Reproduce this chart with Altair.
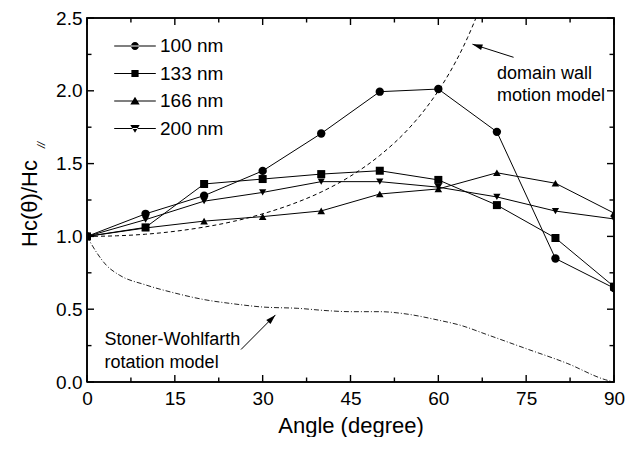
import altair as alt
import pandas as pd

# ---------------- data ----------------
angles = [0, 10, 20, 30, 40, 50, 60, 70, 80, 90]
series_names = ["100 nm", "133 nm", "166 nm", "200 nm"]
hc_100 = [1.0, 1.155, 1.28, 1.45, 1.707, 1.994, 2.012, 1.718, 0.848, 0.645]
hc_133 = [1.0, 1.062, 1.36, 1.394, 1.428, 1.451, 1.388, 1.215, 0.989, 0.655]
hc_166 = [1.0, 1.058, 1.105, 1.136, 1.175, 1.291, 1.326, 1.437, 1.365, 1.16]
hc_200 = [1.0, 1.115, 1.242, 1.302, 1.376, 1.376, 1.338, 1.271, 1.174, 1.12]

# domain wall motion model (dashed)
dw_angle = [0, 5, 10, 15, 20, 25, 30, 35, 40, 45, 50, 55, 58, 60, 62, 64, 65, 66, 67]
dw_value = [1.0, 1.004, 1.015, 1.035, 1.064, 1.103, 1.155, 1.221, 1.305, 1.414,
            1.556, 1.743, 1.887, 2.0, 2.13, 2.281, 2.366, 2.459, 2.559]

# Stoner-Wohlfarth rotation model (dash-dot)
sw_angle = [0, 1.6, 3.3, 5.5, 10, 15, 20, 25, 30, 36, 41, 45, 50, 54, 60, 64, 68, 75, 82, 88.5, 90]
sw_value = [1.0, 0.892, 0.802, 0.735, 0.667, 0.611, 0.566, 0.537, 0.515, 0.506, 0.49,
            0.483, 0.483, 0.47, 0.425, 0.387, 0.33, 0.229, 0.128, 0.016, 0.0]

x_major = [0, 15, 30, 45, 60, 75, 90]
x_minor = [7.5, 22.5, 37.5, 52.5, 67.5, 82.5]
y_major = [0.0, 0.5, 1.0, 1.5, 2.0, 2.5]
y_minor = [0.25, 0.75, 1.25, 1.75, 2.25]

# annotations (in data coordinates)
ann_text = ["domain wall", "motion model", "Stoner-Wohlfarth", "rotation model"]
ann_x = [70.0, 70.0, 3.0, 3.0]
ann_y = [2.08, 1.933, 0.254, 0.094]
arrow_id = ["dw", "dw", "sw", "sw"]
arrow_x = [72.85, 65.83, 26.3, 32.18]
arrow_y = [2.23, 2.32, 0.223, 0.461]
head_x = [65.83, 32.18]
head_y = [2.32, 0.461]
head_angle = [287.7, 44.7]

# ---------------- layout ----------------
W, H = 527, 364
X0, X1, Y0, Y1 = 0, 90, 0.0, 2.5
FONT = "Liberation Sans"
px_x = (X1 - X0) / W   # degrees per pixel
px_y = (Y1 - Y0) / H   # value per pixel

xs = alt.Scale(domain=[X0, X1], nice=False, zero=False)
ys = alt.Scale(domain=[Y0, Y1], nice=False, zero=False)
xaxis = alt.Axis(values=x_major, format="d", title="Angle (degree)", grid=False,
                 ticks=False, domain=False, labelFontSize=19, titleFontSize=22,
                 labelPadding=7, labelFlush=False, labelFont=FONT, titleFont=FONT,
                 labelColor="black", titleColor="black", titleFontWeight="normal",
                 titleBaseline="alphabetic", titleY=50)
yaxis = alt.Axis(values=y_major, format=".1f", title="Hc(θ)/Hc", grid=False,
                 ticks=False, domain=False, labelFontSize=19, titleFontSize=22,
                 labelPadding=5, labelFlush=False, labelFont=FONT, titleFont=FONT,
                 labelColor="black", titleColor="black", titleFontWeight="normal",
                 titleAngle=270, titleAlign="center", titleBaseline="alphabetic",
                 titleX=-51, titleY=185)
X = alt.X("angle:Q", scale=xs, axis=xaxis)
Y = alt.Y("value:Q", scale=ys, axis=yaxis)

rows = []
for name, vals in zip(series_names, [hc_100, hc_133, hc_166, hc_200]):
    for a, v in zip(angles, vals):
        rows.append({"series": name, "angle": a, "value": v})
df = pd.DataFrame(rows)

shape_scale = alt.Scale(domain=series_names,
                        range=["circle", "square", "triangle-up", "triangle-down"])
size_scale = alt.Scale(domain=series_names, range=[70, 52, 90, 90])

lines = alt.Chart(df).mark_line(color="black", strokeWidth=1, clip=True).encode(
    x=X, y=Y, detail="series:N")
points = alt.Chart(df).mark_point(filled=True, color="black", opacity=1, clip=True).encode(
    x=X, y=Y,
    shape=alt.Shape("series:N", scale=shape_scale, legend=None),
    size=alt.Size("series:N", scale=size_scale, legend=None))

dw = alt.Chart(pd.DataFrame({"angle": dw_angle, "value": dw_value})).mark_line(
    color="black", strokeWidth=1, strokeDash=[4, 3], clip=True, interpolate="monotone").encode(x=X, y=Y)
sw = alt.Chart(pd.DataFrame({"angle": sw_angle, "value": sw_value})).mark_line(
    color="#222222", strokeWidth=1, strokeDash=[5, 2, 1, 2], clip=True, interpolate="monotone").encode(x=X, y=Y)

# frame and inward ticks, drawn as short line segments in data space
frame_rows = [{"sid": "frame", "o": i, "angle": a, "value": v}
              for i, (a, v) in enumerate([(X0, Y0), (X1, Y0), (X1, Y1), (X0, Y1), (X0, Y0)])]
seg = []
def add(sid, a0, v0, a1, v1):
    seg.append({"sid": sid, "o": 0, "angle": a0, "value": v0})
    seg.append({"sid": sid, "o": 1, "angle": a1, "value": v1})

for i, t in enumerate(x_major + x_minor):
    L = 7 if t in x_major else 4.5
    add(f"xb{i}", t, Y0, t, Y0 + L * px_y)
    add(f"xt{i}", t, Y1, t, Y1 - L * px_y)
for i, t in enumerate(y_major + y_minor):
    L = 7 if t in y_major else 4.5
    add(f"yl{i}", X0, t, X0 + L * px_x, t)
    add(f"yr{i}", X1, t, X1 - L * px_x, t)

frame = alt.Chart(pd.DataFrame(frame_rows)).mark_line(
    color="black", strokeWidth=1.6, clip=False).encode(
    x=X, y=Y, order="o:Q", detail="sid:N")
ticks = alt.Chart(pd.DataFrame(seg)).mark_line(
    color="black", strokeWidth=1.4, clip=False).encode(
    x=X, y=Y, order="o:Q", detail="sid:N")

# annotations
ann = alt.Chart(pd.DataFrame({"angle": ann_x, "value": ann_y, "t": ann_text})).mark_text(
    align="left", baseline="alphabetic", fontSize=18, font=FONT, color="black").encode(
    x=X, y=Y, text="t:N")
arrows = alt.Chart(pd.DataFrame({"angle": arrow_x, "value": arrow_y, "id": arrow_id})).mark_line(
    color="black", strokeWidth=1).encode(x=X, y=Y, detail="id:N")
heads = alt.Chart(pd.DataFrame({"angle": head_x, "value": head_y, "ang": head_angle})).mark_point(
    shape="M0,0L-0.3,1L0.3,1Z", filled=True, color="black", size=400, opacity=1).encode(
    x=X, y=Y, angle=alt.Angle("ang:Q", scale=None))

# subscript "//" of the y title (placed left of the axis)
sub = alt.Chart(pd.DataFrame({"angle": [X0 - 45.5 * px_x], "value": [Y1 - 127 * px_y], "s": ["//"]})).mark_text(
    fontSize=11, fontStyle="italic", font=FONT, color="black", angle=270,
    align="center", baseline="middle", clip=False).encode(
    x=X, y=Y, text="s:N")

# legend (symbols drawn as a thin filled bar + marker)
line_seg = "M-2.08,-0.05H2.08V0.05H-2.08Z"
leg_paths = [
    line_seg + "M-0.4,0A0.4,0.4,0,1,0,0.4,0A0.4,0.4,0,1,0,-0.4,0Z",
    line_seg + "M-0.36,-0.36H0.36V0.36H-0.36Z",
    line_seg + "M0,-0.42L0.47,0.34H-0.47Z",
    line_seg + "M0,0.42L0.47,-0.34H-0.47Z",
]
leg_df = pd.DataFrame({"leg": series_names, "angle": [0] * 4, "value": [0] * 4})
legend_layer = alt.Chart(leg_df).transform_filter("false").mark_point(
    filled=True, color="black", size=400, opacity=1).encode(
    x=X, y=Y,
    shape=alt.Shape("leg:N", scale=alt.Scale(domain=series_names, range=leg_paths),
                    legend=alt.Legend(title=None, orient="none", legendX=38, legendY=18,
                                      padding=0, labelFontSize=19, labelFont=FONT,
                                      labelColor="black", labelOffset=15, rowPadding=7.5,
                                      symbolSize=400, symbolStrokeWidth=0,
                                      symbolFillColor="black", symbolOpacity=1)))

chart = alt.layer(sw, dw, lines, points, frame, ticks, arrows, heads, ann, sub, legend_layer).resolve_scale(
    shape="independent", size="independent").properties(
    width=W, height=H,
    padding={"left": 79, "top": 10, "right": 12, "bottom": 55},
    autosize=alt.AutoSizeParams(type="none"),
).configure(font=FONT).configure_view(stroke="black", strokeWidth=1.5)

chart.save("out.html", embed_options={"renderer": "svg", "actions": False})
